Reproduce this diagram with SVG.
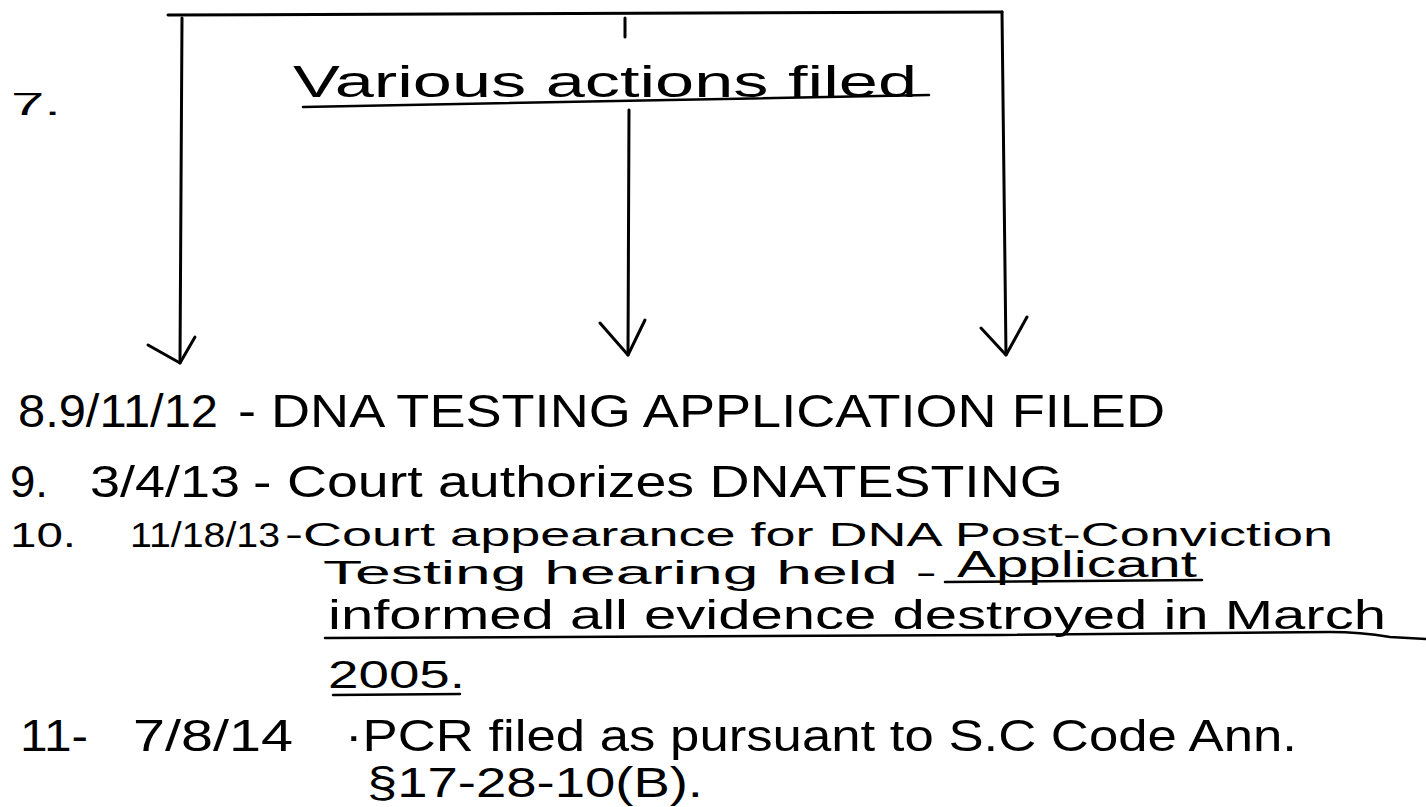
<svg xmlns="http://www.w3.org/2000/svg" width="1426" height="807" viewBox="0 0 1426 807">
<style>
  text { font-family: "Liberation Sans", Arial, sans-serif; fill: #000; }
  .ln { fill: none; stroke: #000; stroke-width: 3; stroke-linecap: round; stroke-linejoin: round; }
  .ul { fill: none; stroke: #000; stroke-width: 2.5; stroke-linecap: round; }
</style>
<rect width="1426" height="807" fill="#fff"/>
<g id="connectors">
  <path class="ln" d="M168,15 L1002,12"/>
  <path class="ln" d="M182,18 L180,363"/>
  <path class="ln" d="M148,345 L180,363 L195,337"/>
  <path class="ln" d="M625,18 L625,37"/>
  <path class="ln" d="M629,110 L628,355"/>
  <path class="ln" d="M600,323 L628,355 L645,320"/>
  <path class="ln" d="M1002,12 L1006,355"/>
  <path class="ln" d="M981,328 L1006,355 L1027,317"/>
</g>
<g id="label-7">
  <text x="11" y="115" font-size="32" textLength="50" lengthAdjust="spacingAndGlyphs">7.</text>
</g>
<g id="node-various">
  <text x="293" y="97" font-size="44" textLength="624" lengthAdjust="spacingAndGlyphs">Various actions filed</text>
  <path class="ul" d="M303,107 L929,95"/>
</g>
<g id="node-8">
  <text x="18" y="427" font-size="46" textLength="200" lengthAdjust="spacingAndGlyphs">8.9/11/12</text>
  <text x="238" y="427" font-size="46" textLength="927" lengthAdjust="spacingAndGlyphs">- DNA TESTING APPLICATION FILED</text>
</g>
<g id="node-9">
  <text x="10" y="497" font-size="45" textLength="38" lengthAdjust="spacingAndGlyphs">9.</text>
  <text x="90" y="497" font-size="45" textLength="150" lengthAdjust="spacingAndGlyphs">3/4/13</text>
  <text x="253" y="497" font-size="45" textLength="810" lengthAdjust="spacingAndGlyphs">- Court authorizes DNATESTING</text>
</g>
<g id="node-10">
  <text x="10" y="547" font-size="35" textLength="66" lengthAdjust="spacingAndGlyphs">10.</text>
  <text x="130" y="547" font-size="35" textLength="150" lengthAdjust="spacingAndGlyphs">11/18/13</text>
  <text x="285" y="546" font-size="34" textLength="1048" lengthAdjust="spacingAndGlyphs">-Court appearance for DNA Post-Conviction</text>
  <text x="323" y="584" font-size="33" textLength="614" lengthAdjust="spacingAndGlyphs">Testing hearing held -</text>
  <text x="957" y="577" font-size="36" textLength="240" lengthAdjust="spacingAndGlyphs">Applicant</text>
  <path class="ul" d="M945,582 L1202,580"/>
  <text x="328" y="629" font-size="40" textLength="1058" lengthAdjust="spacingAndGlyphs">informed all evidence destroyed in March</text>
  <path class="ul" d="M325,638 L1000,635 L1330,632 Q1360,632 1390,637 L1426,639"/>
  <text x="328" y="688" font-size="39" textLength="137" lengthAdjust="spacingAndGlyphs">2005.</text>
  <path class="ul" d="M333,695 L460,694"/>
</g>
<g id="node-11">
  <text x="20" y="751" font-size="44" textLength="68" lengthAdjust="spacingAndGlyphs">11-</text>
  <text x="133" y="751" font-size="44" textLength="160" lengthAdjust="spacingAndGlyphs">7/8/14</text>
  <text x="345" y="751" font-size="44" textLength="952" lengthAdjust="spacingAndGlyphs">·PCR filed as pursuant to S.C Code Ann.</text>
  <text x="367" y="797" font-size="42" textLength="336" lengthAdjust="spacingAndGlyphs">§17-28-10(B).</text>
</g>
</svg>
